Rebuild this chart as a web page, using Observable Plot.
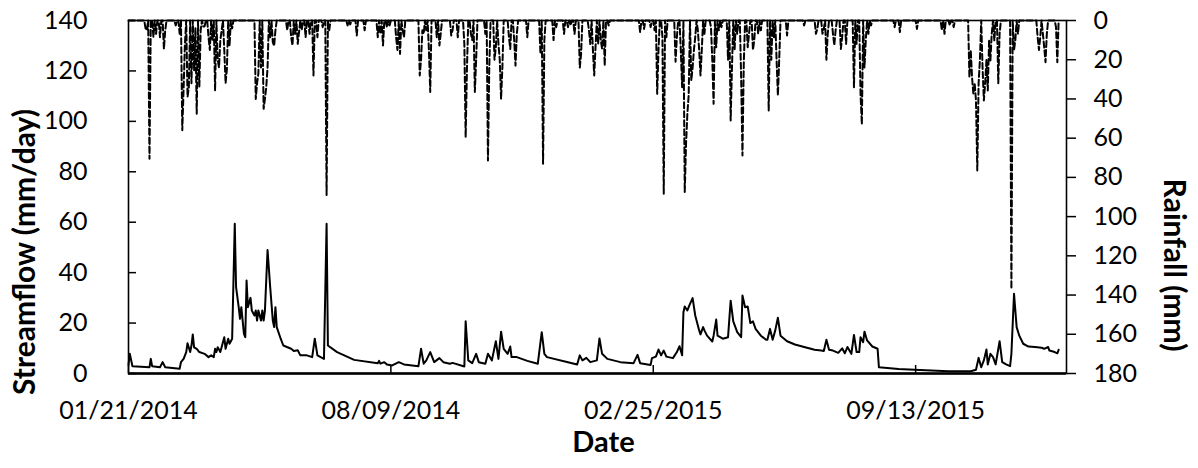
<!DOCTYPE html>
<html>
<head>
<meta charset="utf-8">
<script src="https://cdn.jsdelivr.net/npm/d3@7"></script>
<script src="https://cdn.jsdelivr.net/npm/@observablehq/plot@0.6"></script>
<style>
  html, body { margin: 0; padding: 0; background: #fff; }
  #chart { position: relative; width: 1198px; height: 468px; }
  #chart svg { position: absolute; left: 0; top: 0; }
</style>
</head>
<body>
<div id="chart"></div>
<script>
// ---- data (day offsets from 2014-01-21) ----
const startDate = "2014-01-21";
const endDate = "2016-01-06";
const xTickDates = ["2014-01-21", "2014-08-09", "2015-02-25", "2015-09-13"];
const flowTicks = [0, 20, 40, 60, 80, 100, 120, 140];
const rainTicks = [0, 20, 40, 60, 80, 100, 120, 140, 160, 180];
const lastDay = 709;

// streamflow (mm/day): [day, value]
const flow2014 = [[0,3.5],[1,7.8],[3,2.9],[16,2.5],[17,5.8],[18,2.9],[24,2.5],[26,4.5],[28,2.5],[39,1.9],[40,4.5],[42,5.8],[44,8.5],[45,12.0],[47,8.5],[48,11.1],[49,15.5],[50,10.4],[52,9.8],[54,8.5],[58,7.8],[61,6.5],[63,7.2],[65,6.5],[66,9.8],[67,8.5],[68,10.4],[70,8.5],[73,14.4],[74,9.8],[76,13.8],[77,11.8],[79,13.8],[81,59.4],[82,34.3],[84,26.3],[85,21.7],[86,26.3],[88,15.7],[89,14.4],[90,36.9],[91,26.3],[93,30.0],[94,25.0],[96,23.0],[97,25.0],[98,21.0],[99,25.0],[101,21.0],[102,25.0],[103,21.0],[104,25.0],[106,49.0],[108,34.3],[110,21.0],[111,18.4],[112,26.3],[113,18.4],[116,13.8],[118,11.1],[124,9.8],[126,8.9],[129,9.2],[131,7.2],[136,7.2],[140,6.5],[142,13.8],[144,7.2],[149,5.8],[151,59.4],[152,11.1],[159,8.5],[172,5.4],[190,4.1],[191,5.0],[192,3.9],[195,4.5],[197,3.6],[201,3.2],[206,4.5],[210,3.6],[221,2.9],[223,9.8],[225,3.9],[227,5.2],[230,8.5],[233,4.5],[237,6.1],[240,4.5],[245,3.9],[247,4.2],[256,2.8],[257,20.7],[259,5.2],[262,4.1],[265,7.8],[267,4.5],[272,3.9],[274,7.8],[277,5.2],[280,12.8],[282,5.8],[284,16.6],[286,9.8],[289,7.8],[291,10.7],[292,6.5],[296,6.5],[304,5.0],[312,3.9],[315,16.4],[317,7.8],[319,6.5],[335,4.5],[342,3.6],[344,7.2]];
const flow2015 = [[346,5.2],[349,6.2],[352,4.5],[357,5.2],[359,13.9],[361,7.8],[365,5.8],[375,4.5],[385,4.1],[388,7.4],[390,4.1],[398,3.4],[399,6.1],[402,6.7],[404,9.5],[406,7.2],[408,9.1],[410,6.7],[415,6.1],[418,8.5],[420,10.8],[422,7.2],[423,24.3],[424,26.6],[426,25.0],[428,27.6],[430,29.9],[432,23.0],[435,17.1],[436,15.5],[438,18.4],[439,17.1],[441,15.0],[445,12.7],[446,15.0],[448,21.4],[449,15.0],[453,13.8],[457,14.4],[459,28.9],[461,20.7],[464,16.4],[467,14.4],[468,30.9],[470,26.3],[472,26.6],[474,20.0],[476,20.7],[478,17.7],[482,15.0],[486,13.4],[487,13.4],[489,17.7],[491,13.4],[493,17.1],[495,22.1],[497,15.0],[502,12.8],[508,11.5],[515,10.5],[523,9.4],[528,9.1],[530,8.9],[532,13.4],[534,9.4],[537,9.1],[541,8.2],[544,10.0],[546,8.0],[548,10.5],[551,7.8],[553,15.3],[555,8.5],[557,8.5],[558,14.4],[560,12.4],[561,16.6],[563,13.1],[567,10.7],[571,9.8],[572,2.5],[587,1.8],[599,1.5],[612,1.2],[625,0.9],[642,0.9],[646,1.5],[648,6.2],[650,2.5],[652,5.2],[654,9.5],[655,3.6],[657,7.8],[659,6.5],[661,3.6],[664,12.8],[666,4.5],[669,3.6],[672,2.9],[673,7.8],[675,31.6],[677,18.4],[679,15.0],[682,11.8],[686,10.7],[691,10.5],[696,10.2],[698,9.8],[701,10.5],[702,9.1],[706,8.5],[708,8.0],[709,9.4]];

// rainfall (mm) on rainy days: [day, value]; all other days 0
const rain2014 = [[13,4],[14,5],[16,70.5],[19,8.5],[21,6.8],[24,8.5],[27,14.5],[28,5],[36,2.5],[39,6.8],[41,56],[42,35],[43,12],[45,39],[46,34],[48,32],[50,25.5],[51,4],[52,47.6],[54,34],[55,5],[57,3],[58,3],[61,8.5],[62,15],[64,10],[66,35.7],[68,20],[69,24],[70,10],[71,5],[73,15],[74,32],[75,25],[77,13],[79,4],[97,40],[98,32],[99,27],[101,24],[103,45],[104,40],[105,34],[106,24],[108,8.5],[110,11],[111,13],[112,5],[121,5],[124,8.5],[125,12.7],[127,6.8],[129,11.9],[130,5.9],[132,5],[135,8.5],[138,6.8],[141,28],[144,8.5],[148,3.4],[151,89],[153,5],[167,2.5],[169,2],[174,7.6],[180,5],[190,8.5],[192,6.8],[194,12.7],[197,3.4],[199,2.5],[204,8.5],[205,15],[207,17],[209,5],[210,8.5],[222,28],[223,20],[224,5],[225,6.8],[227,5],[229,15],[230,36.5],[235,8.5],[237,12.7],[238,6.8],[246,7.6],[247,5],[251,8.5],[256,12],[257,59.5],[258,24],[261,6.8],[262,10],[264,36.5],[265,20],[272,6.8],[274,71.4],[275,24],[279,20],[280,13.6],[282,12],[283,20],[284,40],[285,24],[290,8.5],[291,14.5],[294,10],[295,23],[296,6.8],[304,8.5],[314,17],[316,73.1],[317,10],[324,10],[326,3.4],[332,6.8],[335,3.4],[337,2.5],[340,6.8],[344,24]];
const rain2015 = [[345,17],[351,5],[352,12],[354,15],[355,28],[356,13.6],[358,12],[360,10],[361,14.5],[363,23],[366,2.5],[390,6],[393,4.3],[398,3.4],[401,5],[403,37.4],[404,15],[407,8.5],[408,88.4],[410,8.5],[417,21],[418,8.5],[421,15],[422,34],[424,87.5],[425,63],[426,47.6],[427,38],[429,30.6],[430,24],[431,15],[432,8.5],[434,5],[435,15],[436,28],[437,15],[439,6.8],[444,3.4],[445,20],[446,42.5],[448,13.6],[450,5],[452,3.4],[457,20],[459,51],[460,24],[462,15],[464,6.8],[467,29],[468,68.8],[469,22],[472,13.6],[473,6.8],[476,15],[477,10],[480,6.8],[482,5],[488,45.9],[490,20],[492,8.5],[494,20],[495,38.2],[496,20],[502,7.6],[515,2.5],[524,6.8],[525,4.3],[529,6.8],[530,4.3],[532,20],[533,6.8],[537,6.8],[538,12.7],[539,5],[543,14.5],[544,8.5],[547,11.9],[553,34],[555,11.9],[558,37.4],[559,53],[561,24],[562,10],[564,6.8],[566,2.5],[584,3.4],[588,5.9],[601,4.3],[620,5],[622,6.8],[626,2.5],[629,3.4],[641,29],[642,15],[643,28.9],[644,37.4],[645,32],[646,40.8],[647,76.5],[648,32],[649,20],[651,23.8],[652,40.8],[653,32],[654,20],[655,35.7],[656,10],[657,20.4],[658,6.8],[660,10.2],[663,32],[664,6.8],[673,136.8],[675,15],[676,10],[678,6.8],[693,8.5],[694,15],[695,8.5],[697,6.8],[698,13.6],[699,21.3],[700,6.8],[707,3.4],[708,21.3]];

// ---- build tables ----
const parse = d3.utcParse("%Y-%m-%d");
const t0 = parse(startDate);
const dayToDate = (d) => d3.utcDay.offset(t0, d);
const flowData = [...flow2014, ...flow2015].map(([d, v]) => ({date: dayToDate(d), flow: v}));
const rainMap = new Map([...rain2014, ...rain2015]);
const rainData = d3.range(0, lastDay + 1).map((d) => ({date: dayToDate(d), rain: rainMap.get(d) ?? 0}));
const xDomain = [parse(startDate), parse(endDate)];
const xTicks = xTickDates.map(parse);
const fmt = d3.utcFormat("%m/%d/%Y");

const common = {
  width: 1198, height: 468,
  marginLeft: 128, marginRight: 132, marginTop: 20, marginBottom: 95,
  style: {fontFamily: "Lato, 'Open Sans', sans-serif", fontSize: "25px", color: "#000", background: "transparent", overflow: "visible"}
};

const flowPlot = Plot.plot({
  ...common,
  x: {type: "utc", domain: xDomain},
  y: {domain: [0, 140]},
  marks: [
    Plot.axisX({ticks: xTicks, tickFormat: fmt, tickSize: -8, tickPadding: 36, label: null, strokeWidth: 1.5}),
    Plot.axisY({ticks: flowTicks, tickSize: -8, tickPadding: 49, label: null, strokeWidth: 1.5}),
    Plot.frame({stroke: "#000", strokeWidth: 1.6}),
    Plot.ruleY([0], {stroke: "#000", strokeWidth: 2.5}),
    Plot.line(flowData, {x: "date", y: "flow", stroke: "#000", strokeWidth: 2}),
    Plot.text(["Streamflow (mm/day)"], {frameAnchor: "left", textAnchor: "middle", rotate: -90, dx: -103, dy: 55, fontWeight: "bold", fontSize: 30}),
    Plot.text(["Date"], {frameAnchor: "bottom", textAnchor: "middle", dx: 6, dy: 69, fontWeight: "bold", fontSize: 29, lineAnchor: "middle"})
  ]
});

const rainPlot = Plot.plot({
  ...common,
  x: {type: "utc", domain: xDomain, axis: null},
  y: {domain: [0, 180], reverse: true},
  marks: [
    Plot.axisY({anchor: "right", ticks: rainTicks, tickSize: 9, tickPadding: 18, label: null, strokeWidth: 1.5}),
    Plot.line(rainData, {x: "date", y: "rain", stroke: "#000", strokeWidth: 2, strokeDasharray: "6,3"}),
    Plot.text(["Rainfall (mm)"], {frameAnchor: "right", textAnchor: "middle", rotate: 90, dx: 107, dy: 68, fontWeight: "bold", fontSize: 30})
  ]
});

const chart = document.getElementById("chart");
chart.appendChild(flowPlot);
chart.appendChild(rainPlot);
</script>
</body>
</html>
